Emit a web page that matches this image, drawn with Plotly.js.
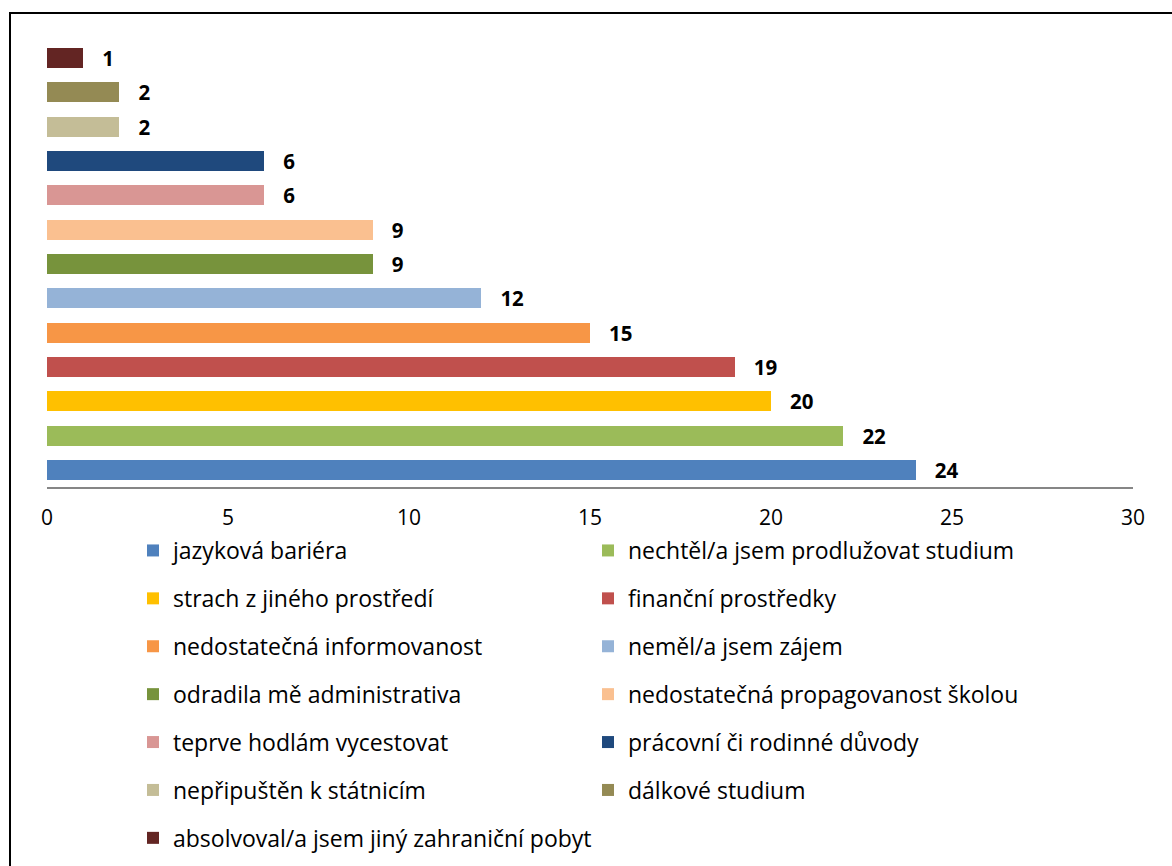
<!DOCTYPE html>
<html>
<head>
<meta charset="utf-8">
<script src="https://cdn.plot.ly/plotly-3.0.1.min.js"></script>
<style>
  html, body { margin: 0; padding: 0; background: #fff; }
  #chart { width: 1172px; height: 866px; }
</style>
</head>
<body>
<div id="chart"></div>
<script>
const labels = [
  'jazyková bariéra',
  'nechtěl/a jsem prodlužovat studium',
  'strach z jiného prostředí',
  'finanční prostředky',
  'nedostatečná informovanost',
  'neměl/a jsem zájem',
  'odradila mě administrativa',
  'nedostatečná propagovanost školou',
  'teprve hodlám vycestovat',
  'prácovní či rodinné důvody',
  'nepřipuštěn k státnicím',
  'dálkové studium',
  'absolvoval/a jsem jiný zahraniční pobyt'
];
const values = [24, 22, 20, 19, 15, 12, 9, 9, 6, 6, 2, 2, 1];
const colors = ['#4F81BD', '#9BBB59', '#FFC000', '#C0504D', '#F79646', '#95B3D7',
                '#77933C', '#FAC090', '#D99694', '#1F497D', '#C4BD97', '#948A54', '#632523'];
const xTicks = [0, 5, 10, 15, 20, 25, 30];

const FONT = '"Open Sans", "Noto Sans", sans-serif';

const traces = labels.map((name, i) => ({
  type: 'bar',
  orientation: 'h',
  name: name,
  x: [values[i]],
  y: [name],
  marker: { color: colors[i] },
  text: [values[i]],
  texttemplate: '\u00a0\u00a0\u00a0<b>%{x}</b>',
  textposition: 'outside',
  cliponaxis: false,
  constraintext: 'none',
  textfont: { family: FONT, size: 20.5, color: '#000' },
  legend: i % 2 === 0 ? 'legend' : 'legend2',
  legendgroup: 'g' + i,
  hoverinfo: 'x+name'
}));

// plot area in pixels: x 47..1133, y 41..487
const L = 47, R = 39, T = 41, B = 379;
const W = 1172 - L - R, H = 866 - T - B;
const px = p => (p - L) / W;
const py = p => (866 - B - p) / H;

const legendCommon = {
  orientation: 'v',
  traceorder: 'grouped',
  tracegroupgap: 15,
  font: { family: FONT, size: 23, color: '#000' },
  bgcolor: 'rgba(0,0,0,0)',
  xanchor: 'left',
  yanchor: 'top',
  itemclick: false,
  itemdoubleclick: false
};

const layout = {
  width: 1172,
  height: 866,
  margin: { l: L, r: R, t: T, b: B, autoexpand: false },
  paper_bgcolor: '#fff',
  plot_bgcolor: '#fff',
  barmode: 'stack',
  bargap: 0.417,
  showlegend: true,
  font: { family: FONT, color: '#000' },
  xaxis: {
    range: [0, 30],
    tickvals: xTicks,
    ticktext: xTicks.map(String),
    ticks: '',
    ticklabelstandoff: 11,
    tickfont: { family: FONT, size: 21, color: '#000' },
    showgrid: false,
    zeroline: false,
    showline: true,
    linecolor: '#868686',
    linewidth: 2,
    fixedrange: true,
    automargin: false
  },
  yaxis: {
    type: 'category',
    categoryorder: 'array',
    categoryarray: labels,
    showticklabels: false,
    ticks: '',
    showgrid: false,
    zeroline: false,
    showline: false,
    fixedrange: true,
    automargin: false
  },
  legend: Object.assign({}, legendCommon, { x: px(133), y: py(529) }),
  legend2: Object.assign({}, legendCommon, { x: px(588), y: py(529) }),
  shapes: [{
    type: 'rect', xref: 'paper', yref: 'paper',
    x0: px(10), x1: px(1190), y0: py(890), y1: py(13),
    line: { color: '#000', width: 2 },
    fillcolor: 'rgba(0,0,0,0)',
    layer: 'above'
  }]
};

Plotly.newPlot('chart', traces, layout, { displayModeBar: false });
</script>
</body>
</html>
